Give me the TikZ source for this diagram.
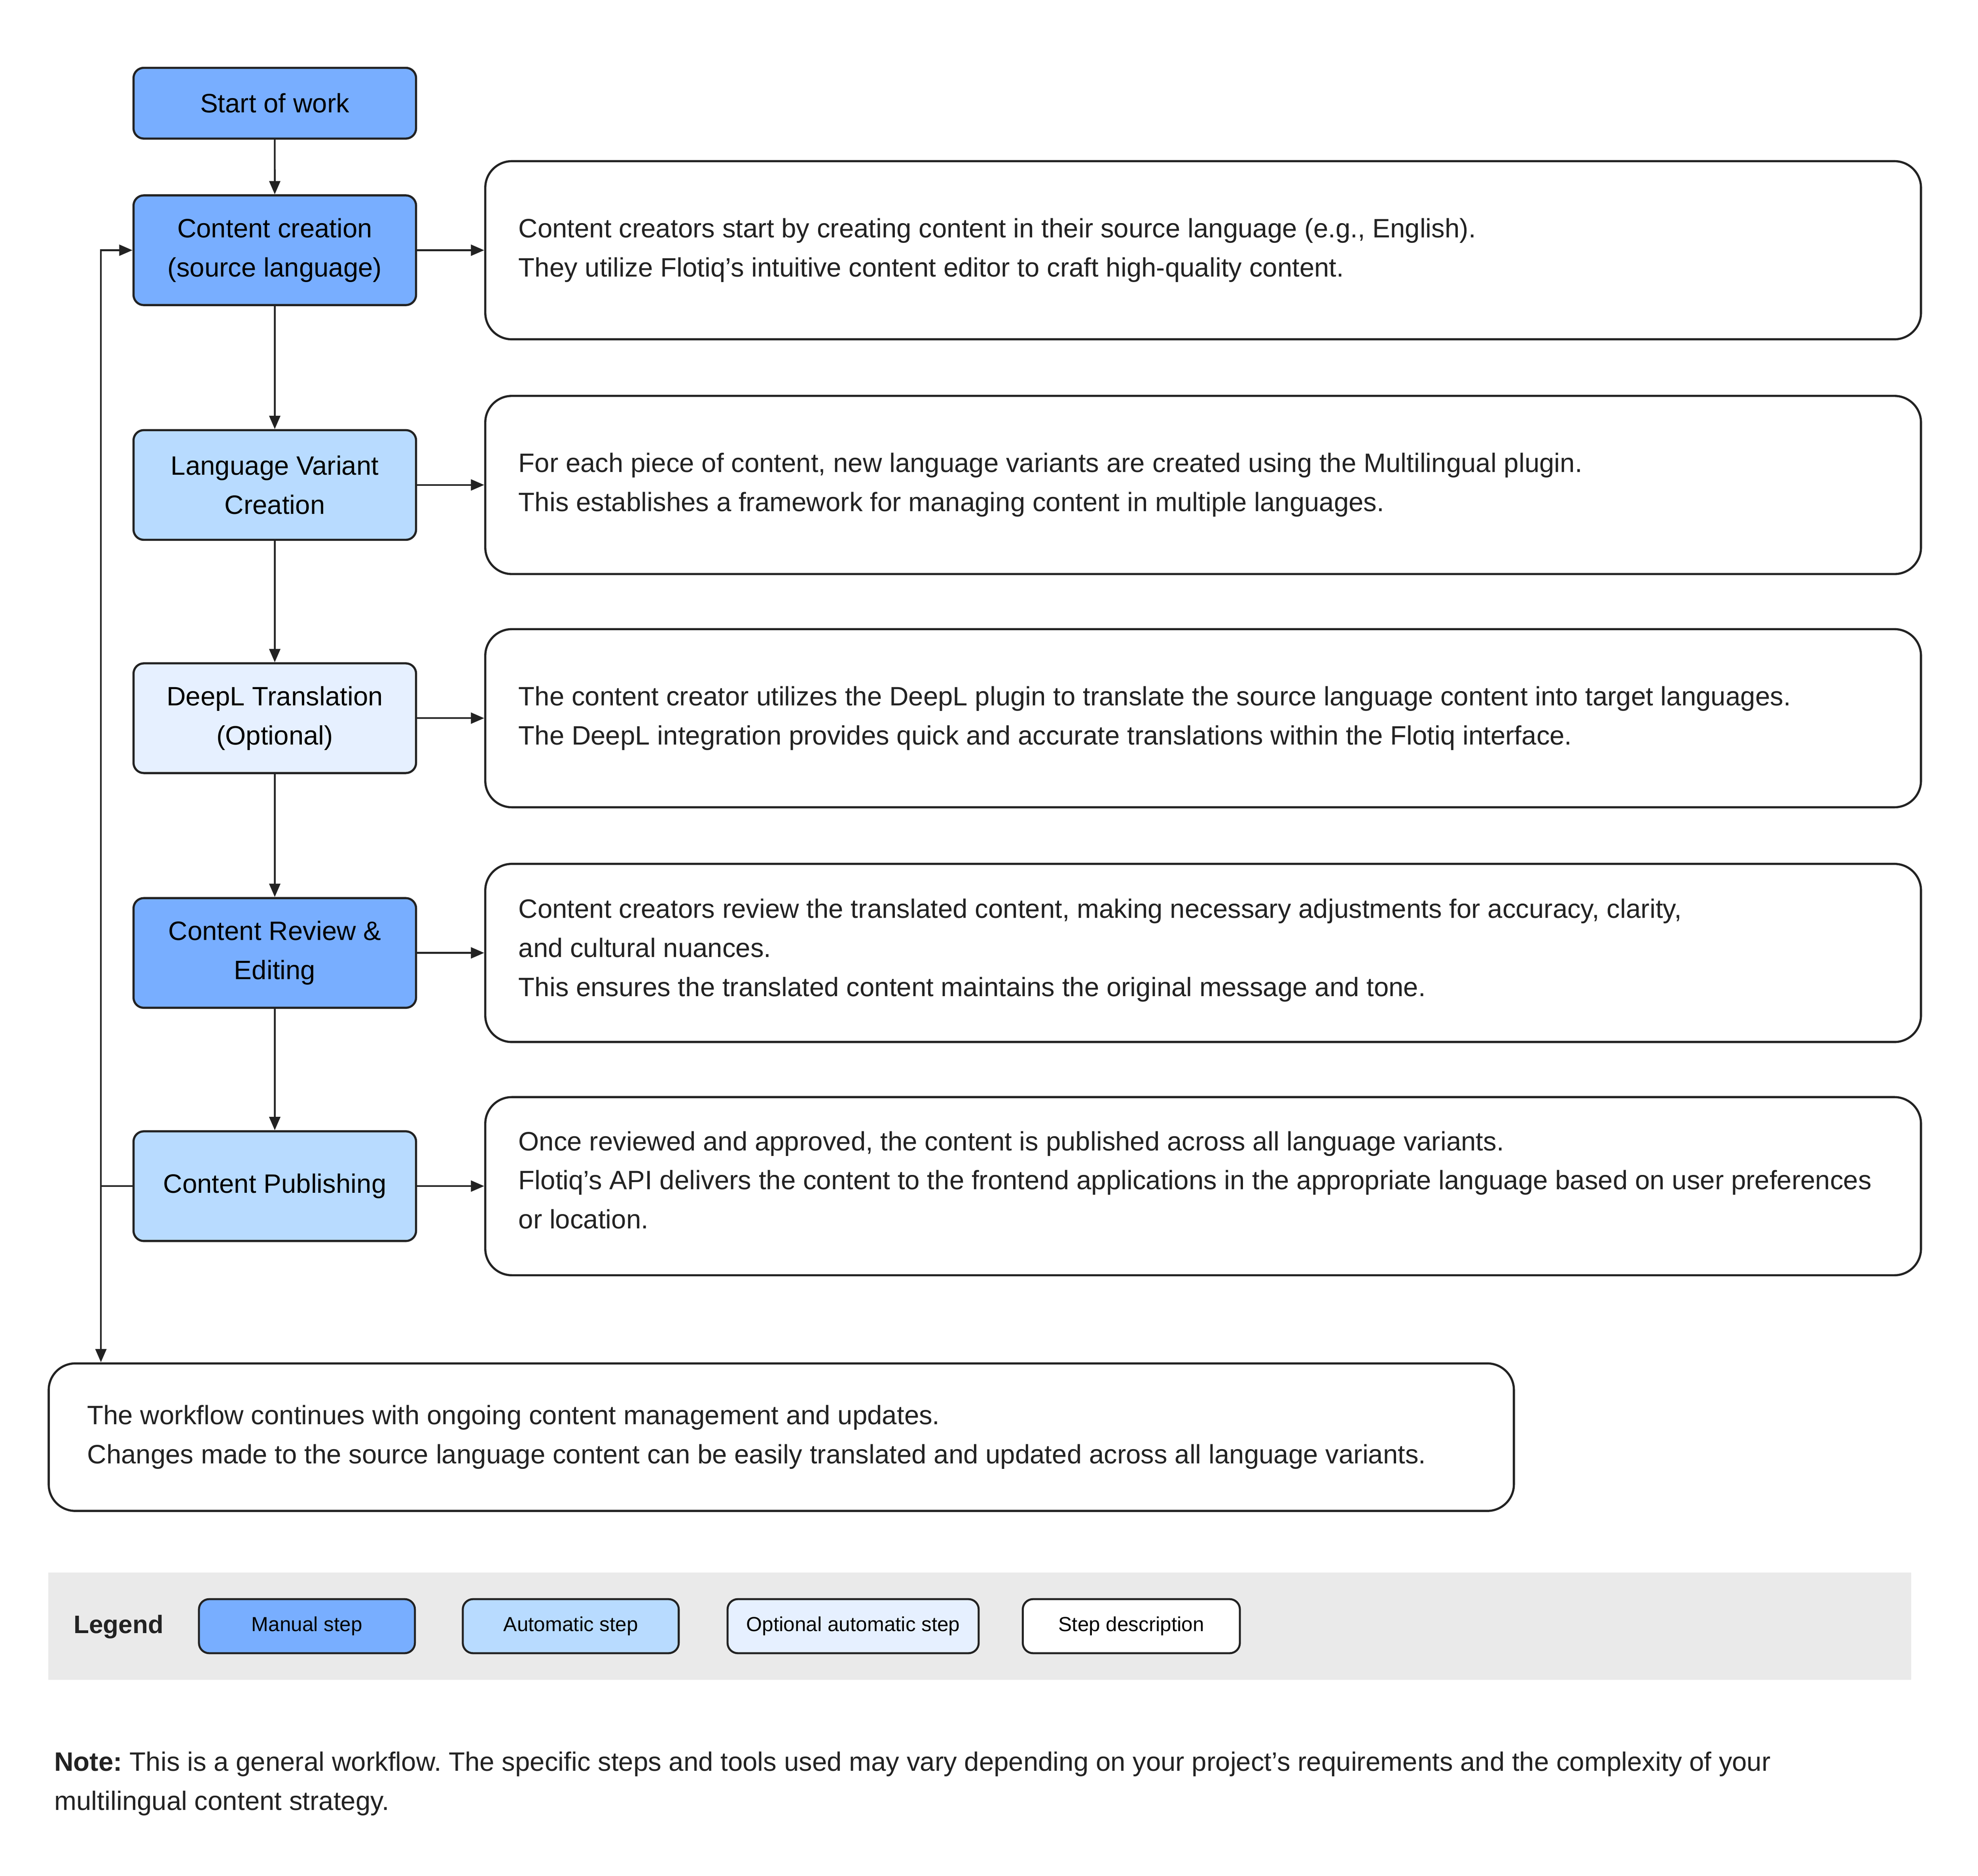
\documentclass[tikz,border=0pt]{standalone}
\usepackage{fontspec}
\setmainfont{Liberation Sans}
\usetikzlibrary{arrows.meta}
\definecolor{manual}{HTML}{78AEFF}
\definecolor{autostep}{HTML}{B8DBFF}
\definecolor{optauto}{HTML}{E6F0FF}
\definecolor{edgec}{HTML}{222222}
\definecolor{legbg}{HTML}{EAEAEA}
\frenchspacing
\begin{document}
\begin{tikzpicture}[x=0.01cm,y=-0.01cm,scale=0.99655,every node/.style={transform shape},
  stepbox/.style={draw=edgec, line width=1.6pt, rounded corners=0.27cm,
    minimum width=7.47cm, minimum height=2.9cm, align=center, inner sep=0pt,
    font=\fontsize{20}{29.4}\selectfont},
  descbox/.style={draw=edgec, line width=1.6pt, rounded corners=0.7cm, fill=white,
    minimum width=37.96cm, minimum height=4.71cm, inner sep=0pt},
  desctext/.style={anchor=west, align=left, inner sep=0pt,
    font=\fontsize{20}{29.4}\selectfont, text=edgec},
  legbox/.style={draw=edgec, line width=1.5pt, rounded corners=0.27cm,
    minimum height=1.43cm, inner sep=0pt, font=\fontsize{15.3}{18}\selectfont},
  arr/.style={draw=edgec, line width=1.3pt, -{Triangle[length=0.35cm,width=0.29cm]}},
  plainline/.style={draw=edgec, line width=1.3pt}
]
\path[use as bounding box, fill=white] (0,0) rectangle (5233,4962);

% left column
\node[stepbox, fill=manual, minimum height=1.87cm] (start) at (727,273) {Start of work};
\node[stepbox, fill=manual] (cc) at (727,662) {Content creation\\(source language)};
\node[stepbox, fill=autostep] (lv) at (727,1283) {Language Variant\\Creation};
\node[stepbox, fill=optauto] (dl) at (727,1900) {DeepL Translation\\(Optional)};
\node[stepbox, fill=manual] (rv) at (727,2521) {Content Review \&\\Editing};
\node[stepbox, fill=autostep] (pb) at (727,3138) {Content Publishing};

% description boxes
\node[descbox] (d1) at (3183,662) {};
\node[descbox] (d2) at (3183,1283) {};
\node[descbox] (d3) at (3183,1900) {};
\node[descbox] (d4) at (3183,2521) {};
\node[descbox] (d5) at (3183,3138) {};

\node[desctext] (t1) at ([xshift=0.9cm]d1.west) {Content creators start by creating content in their source language (e.g., English).\\They utilize Flotiq’s intuitive content editor to craft high-quality content.};
\node[desctext] (t2) at ([xshift=0.9cm]d2.west) {For each piece of content, new language variants are created using the Multilingual plugin.\\This establishes a framework for managing content in multiple languages.};
\node[desctext] (t3) at ([xshift=0.9cm]d3.west) {The content creator utilizes the DeepL plugin to translate the source language content into target languages.\\The DeepL integration provides quick and accurate translations within the Flotiq interface.};
\node[desctext] (t4) at ([xshift=0.9cm,yshift=0.07cm]d4.west) {Content creators review the translated content, making necessary adjustments for accuracy, clarity,\\and cultural nuances.\\This ensures the translated content maintains the original message and tone.};
\node[desctext] (t5) at ([xshift=0.9cm,yshift=0.16cm]d5.west) {Once reviewed and approved, the content is published across all language variants.\\Flotiq’s API delivers the content to the frontend applications in the appropriate language based on user preferences\\or location.};

% bottom box
\node[descbox, minimum width=38.74cm, minimum height=3.9cm] (bot) at (2067,3802) {};
\node[desctext] (tb) at ([xshift=1.04cm]bot.west) {The workflow continues with ongoing content management and updates.\\Changes made to the source language content can be easily translated and updated across all language variants.};

% connectors
\draw[arr] (start) -- (cc);
\draw[arr] (cc) -- (lv);
\draw[arr] (lv) -- (dl);
\draw[arr] (dl) -- (rv);
\draw[arr] (rv) -- (pb);
\draw[arr] (cc.east) -- (d1.west);
\draw[arr] (lv.east) -- (d2.west);
\draw[arr] (dl.east) -- (d3.west);
\draw[arr] (rv.east) -- (d4.west);
\draw[arr] (pb.east) -- (d5.west);
\coordinate (loopA) at (267,3138);
\draw[plainline] (pb.west) -- (loopA);
\draw[arr] (loopA) |- (cc.west);
\draw[arr] (loopA) -- (loopA |- bot.north);

% legend
\node[fill=legbg, minimum width=49.25cm, minimum height=2.83cm, inner sep=0pt] (legband) at (2592,4302) {};
\node[anchor=west, inner sep=0pt, font=\fontsize{19}{22}\selectfont\bfseries, text=edgec] (legtitle) at (194,4304) {Legend};
\node[legbox, fill=manual, minimum width=5.71cm] (lg1) at (812,4302) {Manual step};
\node[legbox, fill=autostep, minimum width=5.71cm] (lg2) at (1510,4302) {Automatic step};
\node[legbox, fill=optauto, minimum width=6.64cm] (lg3) at (2257,4302) {Optional automatic step};
\node[legbox, fill=white, minimum width=5.74cm] (lg4) at (2993,4302) {Step description};

% note
\node[desctext] (note) at (143,4719) {\textbf{Note:} This is a general workflow. The specific steps and tools used may vary depending on your project’s requirements and the complexity of your\\multilingual content strategy.};
\end{tikzpicture}
\end{document}
